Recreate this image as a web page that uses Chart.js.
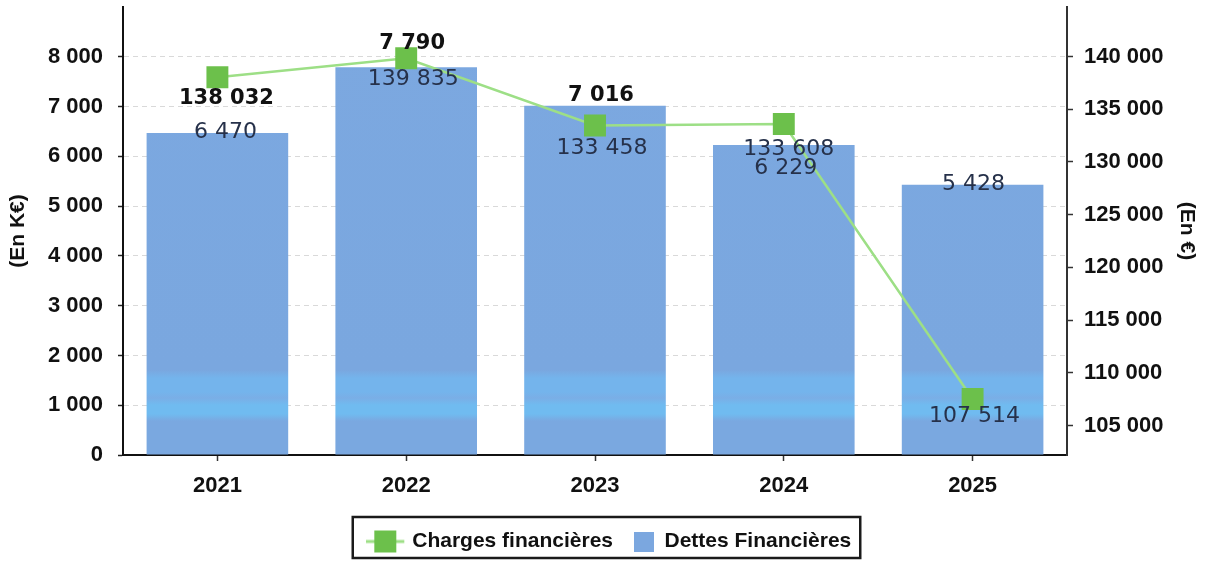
<!DOCTYPE html>
<html>
<head>
<meta charset="utf-8">
<script src="https://cdn.jsdelivr.net/npm/chart.js@4.4.0/dist/chart.umd.min.js"></script>
<style>
  html, body { margin: 0; padding: 0; background: #fff; overflow: hidden; }
  canvas { display: block; }
</style>
</head>
<body>
<canvas id="chart" width="1206" height="562"></canvas>
<script>
const years = ['2021', '2022', '2023', '2024', '2025'];
const dettes = [6470, 7790, 7016, 6229, 5428];
const charges = [138032, 139835, 133458, 133608, 107514];
const leftTicks = [0, 1000, 2000, 3000, 4000, 5000, 6000, 7000, 8000];
const rightTicks = [105000, 110000, 115000, 120000, 125000, 130000, 135000, 140000];

// where each value label sits relative to its mark, in px
const barLabelShift = [[8, -1], [6, -24], [6, -10], [2, 23], [1, -1]];
const lineLabelShift = [[9, 21], [7, 21], [7, 23], [5, 25], [2, 17]];

const SANS = '"Liberation Sans", Arial, sans-serif';
const fmt = v => String(v).replace(/\B(?=(\d{3})+(?!\d))/g, ' ');

// legend swatches (line swatch drawn left of centre so the text gap matches)
const lineSwatch = document.createElement('canvas');
lineSwatch.width = 50; lineSwatch.height = 24;
(() => {
  const c = lineSwatch.getContext('2d');
  c.strokeStyle = '#9ddf86'; c.lineWidth = 3;
  c.beginPath(); c.moveTo(0, 12); c.lineTo(38, 12); c.stroke();
  c.fillStyle = '#6cc04b'; c.fillRect(8, 1, 22, 22);
})();
const barSwatch = document.createElement('canvas');
barSwatch.width = 20; barSwatch.height = 20;
(() => {
  const c = barSwatch.getContext('2d');
  c.fillStyle = '#7ba7df'; c.fillRect(0, 0, 20, 20);
})();

let barFill = null;
function barColor(context) {
  const chart = context.chart;
  if (!chart.chartArea) return '#7ba7df';
  if (!barFill) {
    const h = chart.height;
    const g = chart.ctx.createLinearGradient(0, 0, 0, h);
    const stops = [[0, '#7ca8e0'], [370, '#7aa7df'], [378, '#74b4ec'], [392, '#74b4ec'],
                   [398, '#7aaee6'], [405, '#70bbf0'], [414, '#70bbf0'], [421, '#7aa8e0'], [562, '#7aa8e0']];
    stops.forEach(([y, col]) => g.addColorStop(y / h, col));
    barFill = g;
  }
  return barFill;
}

const valueLabels = {
  id: 'valueLabels',
  afterDatasetsDraw(chart) {
    const ctx = chart.ctx;
    const lineMeta = chart.getDatasetMeta(0);
    const barMeta = chart.getDatasetMeta(1);
    ctx.save();
    ctx.textAlign = 'center';
    ctx.textBaseline = 'middle';
    const put = (text, x, y, onWhite) => {
      ctx.font = onWhite ? 'bold 21px "DejaVu Sans"' : '22px "DejaVu Sans"';
      ctx.fillStyle = onWhite ? '#111' : '#26314a';
      ctx.fillText(text, x, y);
    };
    barMeta.data.forEach((bar, i) => {
      const [dx, dy] = barLabelShift[i];
      put(fmt(dettes[i]), bar.x + dx, bar.y + dy, dy < -5);
    });
    lineMeta.data.forEach((pt, i) => {
      const [dx, dy] = lineLabelShift[i];
      const y = pt.y + dy;
      put(fmt(charges[i]), pt.x + dx, y, y < barMeta.data[i].y - 5);
    });
    ctx.restore();
  }
};

const legendFrame = {
  id: 'legendFrame',
  afterLayout(chart) {
    chart.legend.left += 13;
    chart.legend.right += 13;
  },
  afterDraw(chart) {
    const boxes = chart.legend.legendHitBoxes;
    if (!boxes || !boxes.length) return;
    const l = Math.min(...boxes.map(b => b.left)) - 28;
    const r = Math.max(...boxes.map(b => b.left + b.width)) + 9;
    const t = boxes[0].top - 14;
    const b = boxes[0].top + boxes[0].height + 6;
    const ctx = chart.ctx;
    ctx.save();
    ctx.strokeStyle = '#1a1a1a';
    ctx.lineWidth = 2.5;
    ctx.strokeRect(l, t, r - l, b - t);
    ctx.restore();
  }
};

const defaultLabels = Chart.defaults.plugins.legend.labels.generateLabels;

new Chart(document.getElementById('chart'), {
  data: {
    labels: years,
    datasets: [
      {
        type: 'line',
        label: 'Charges financières',
        data: charges,
        yAxisID: 'y1',
        order: 0,
        borderColor: '#9ddf86',
        borderWidth: 2.5,
        tension: 0,
        pointStyle: 'rect',
        pointRadius: 15.5,
        pointBackgroundColor: '#6cc04b',
        pointBorderWidth: 0
      },
      {
        type: 'bar',
        label: 'Dettes Financières',
        data: dettes,
        yAxisID: 'y',
        order: 1,
        backgroundColor: barColor,
        borderWidth: 0,
        barPercentage: 0.75,
        categoryPercentage: 1
      }
    ]
  },
  options: {
    responsive: false,
    animation: false,
    devicePixelRatio: 1,
    layout: { autoPadding: false, padding: { top: 7, left: 0, right: 0, bottom: 0 } },
    plugins: {
      tooltip: { enabled: false },
      legend: {
        position: 'bottom',
        labels: {
          usePointStyle: true,
          padding: 20,
          color: '#111',
          font: { family: SANS, size: 21, weight: 'bold' },
          generateLabels(chart) {
            const items = defaultLabels(chart);
            items.forEach(it => { it.pointStyle = it.datasetIndex === 0 ? lineSwatch : barSwatch; });
            return items;
          }
        }
      }
    },
    scales: {
      x: {
        offset: true,
        grid: { display: true, drawOnChartArea: false, offset: false, tickLength: 6, tickColor: '#333', tickWidth: 1.5 },
        border: { display: true, color: '#111', width: 2 },
        ticks: { color: '#111', padding: 12, font: { family: SANS, size: 22, weight: 'bold' } },
        afterFit(s) { s.height = 56; s.paddingLeft = 0; s.paddingRight = 0; }
      },
      y: {
        position: 'left',
        min: 0,
        max: 9000,
        afterBuildTicks(s) { s.ticks = leftTicks.map(v => ({ value: v })); },
        grid: { color: '#d9d9d9', lineWidth: 1, tickLength: 5, tickColor: '#222', tickWidth: 1.5 },
        border: { color: '#111', width: 2, dash: [5, 4] },
        ticks: { color: '#111', padding: 15, font: { family: SANS, size: 22, weight: 'bold' }, callback: v => fmt(v) },
        title: { display: true, text: '(En K€)', color: '#111', font: { family: SANS, size: 21, weight: 'bold' }, padding: { top: 6, bottom: 0 } },
        afterFit(s) { s.width = 123; s.paddingTop = 0; s.paddingBottom = 0; }
      },
      y1: {
        position: 'right',
        min: 102200,
        max: 144700,
        afterBuildTicks(s) { s.ticks = rightTicks.map(v => ({ value: v })); },
        grid: { drawOnChartArea: false, tickLength: 6, tickColor: '#333', tickWidth: 1.5 },
        border: { color: '#333', width: 2 },
        ticks: { color: '#111', padding: 11, font: { family: SANS, size: 22, weight: 'bold' }, callback: v => fmt(v) },
        title: { display: true, text: '(En €)', color: '#111', font: { family: SANS, size: 21, weight: 'bold' }, padding: { top: 7, bottom: 0 } },
        afterFit(s) { s.width = 139; s.paddingTop = 0; s.paddingBottom = 0; }
      }
    }
  },
  plugins: [valueLabels, legendFrame]
});
</script>
</body>
</html>
